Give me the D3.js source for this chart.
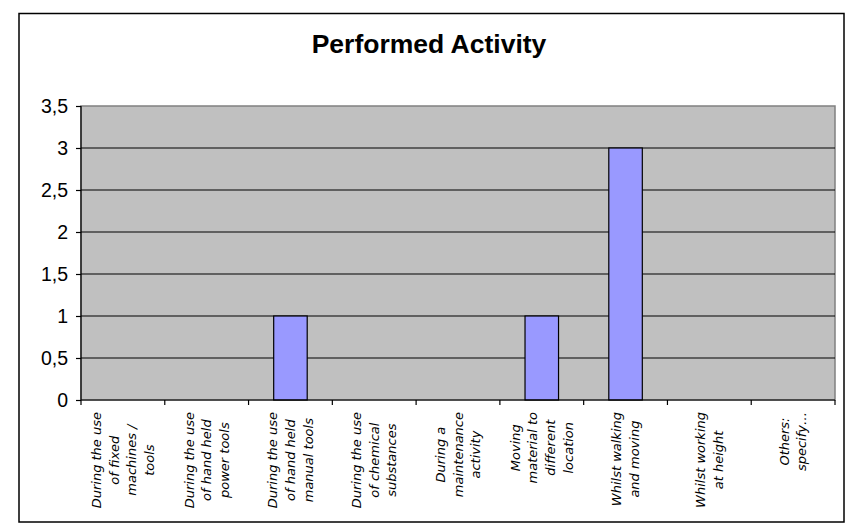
<!DOCTYPE html>
<html><head><meta charset="utf-8">
<script src="https://cdn.jsdelivr.net/npm/d3@7"></script>
<style>body{margin:0;background:#fff}svg{display:block}</style>
</head><body>
<script>
const categories = [
  ["During the use","of fixed","machines /","tools"],
  ["During the use","of hand held","power tools"],
  ["During the use","of hand held","manual tools"],
  ["During the use","of chemical","substances"],
  ["During a","maintenance","activity"],
  ["Moving","material to","different","location"],
  ["Whilst walking","and moving"],
  ["Whilst working","at height"],
  ["Others:","specify…"]
];
const values = [0, 0, 1, 0, 0, 1, 3, 0, 0];
const yTicks = [0, 0.5, 1, 1.5, 2, 2.5, 3, 3.5];
const title = "Performed Activity";

const W = 863, H = 531;
const svg = d3.select("body").append("svg").attr("width", W).attr("height", H);
svg.append("rect").attr("x", 19).attr("y", 13.5).attr("width", 825).attr("height", 508.5)
  .attr("fill", "#fff").attr("stroke", "#000").attr("stroke-width", 1.5);

const L = 81, R = 835, T = 106, B = 400;
const x = d3.scaleBand().domain(d3.range(categories.length)).range([L, R]).paddingInner(0.6).paddingOuter(0.3);
const xc = d3.scaleBand().domain(d3.range(categories.length)).range([L, R]);
const y = d3.scaleLinear().domain([0, 3.5]).range([B, T]);

svg.append("rect").attr("x", L).attr("y", T).attr("width", R - L).attr("height", B - T)
  .attr("fill", "#c0c0c0").attr("stroke", "#808080").attr("stroke-width", 1.5);

svg.append("g").selectAll("line").data(yTicks.filter(d => d > 0 && d < 3.5)).join("line")
  .attr("x1", L).attr("x2", R).attr("y1", d => y(d)).attr("y2", d => y(d))
  .attr("stroke", "#000").attr("stroke-width", 1.2);

svg.append("g").selectAll("rect").data(values).join("rect")
  .attr("x", (d, i) => x(i)).attr("width", x.bandwidth())
  .attr("y", d => y(d)).attr("height", d => y(0) - y(d))
  .attr("fill", d => d > 0 ? "#9999ff" : "none").attr("stroke", d => d > 0 ? "#000" : "none").attr("stroke-width", 1.2);

// y axis
const ya = svg.append("g").attr("transform", `translate(${L},0)`)
  .call(d3.axisLeft(y).tickValues(yTicks).tickSize(5).tickPadding(8).tickFormat(d => String(d).replace(".", ",")));
ya.selectAll("text").attr("font-family", "Liberation Sans, Arial, sans-serif").attr("font-size", 19.5).attr("fill", "#000");
ya.selectAll("line").attr("stroke", "#000").attr("stroke-width", 1.2);
ya.select(".domain").attr("stroke", "#000").attr("stroke-width", 1.2).attr("d", `M0,${T}V${B}`);

// x axis
const xa = svg.append("g").attr("transform", `translate(0,${B})`);
xa.append("line").attr("x1", L).attr("x2", R).attr("stroke", "#000").attr("stroke-width", 1.2);
xa.selectAll("line.tk").data(d3.range(categories.length + 1)).join("line").attr("class", "tk")
  .attr("x1", i => L + i * xc.bandwidth()).attr("x2", i => L + i * xc.bandwidth())
  .attr("y1", 0).attr("y2", 5).attr("stroke", "#000").attr("stroke-width", 1.2);

const lh = 17.6;
const lab = xa.selectAll("g.lab").data(categories).join("g").attr("class", "lab")
  .attr("transform", (d, i) => `translate(${xc(i) + xc.bandwidth() / 2},12) rotate(-90)`);
lab.each(function(lines) {
  const g = d3.select(this);
  const n = lines.length;
  const t = g.append("text").attr("font-family", "'DejaVu Sans', Verdana, sans-serif")
    .attr("font-style", "italic").attr("font-size", 13).attr("fill", "#000")
    .attr("text-anchor", "middle");
  const spans = lines.map((s, k) =>
    t.append("tspan").attr("y", (k - (n - 1) / 2) * lh + 4.5).text(s));
  const maxW = d3.max(spans, sp => sp.node().getComputedTextLength());
  spans.forEach(sp => sp.attr("x", -maxW / 2));
});

svg.append("text").attr("x", 429).attr("y", 53).attr("text-anchor", "middle")
  .attr("font-family", "Liberation Sans, Arial, sans-serif").attr("font-weight", "bold")
  .attr("font-size", 26.5).attr("fill", "#000").text(title);
</script>
</body></html>
